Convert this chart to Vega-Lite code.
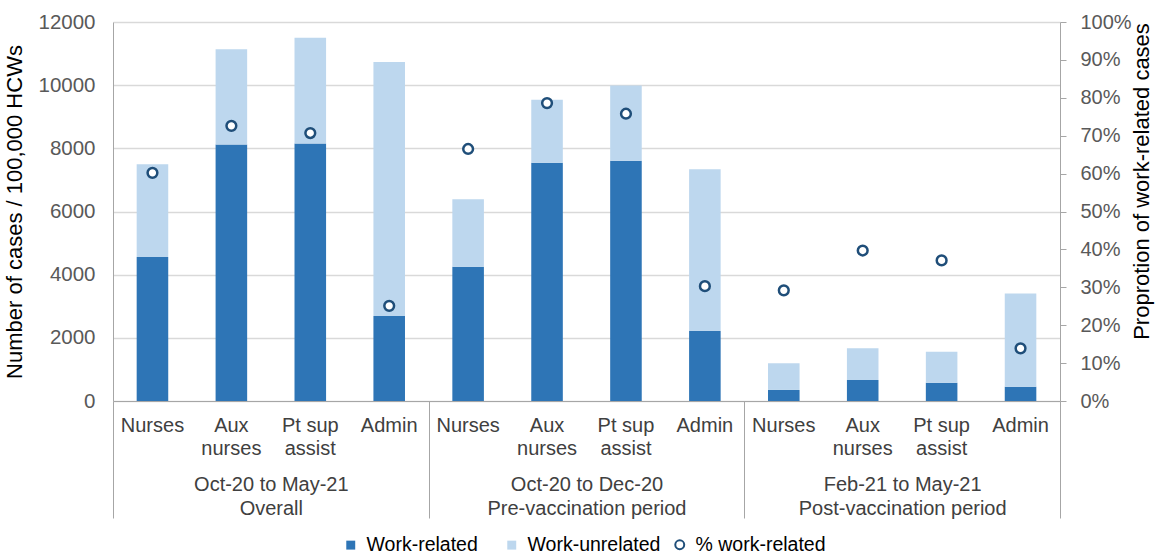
{
  "$schema": "https://vega.github.io/schema/vega-lite/v6.json",
  "width": 947,
  "height": 379,
  "autosize": {"type": "none"},
  "padding": {"left": 113, "top": 22, "right": 99, "bottom": 157},
  "background": "white",
  "config": {
    "view": {"stroke": null},
    "font": "Liberation Sans",
    "axis": {"labelFont": "Liberation Sans", "titleFont": "Liberation Sans"},
    "legend": {"labelFont": "Liberation Sans"}
  },
  "datasets": {
    "bars": [
      {"grp": "Oct-20 to May-21|Overall", "occ": "Nurses", "series": "Work-related", "value": 4560},
      {"grp": "Oct-20 to May-21|Overall", "occ": "Nurses", "series": "Work-unrelated", "value": 2940},
      {"grp": "Oct-20 to May-21|Overall", "occ": "Aux|nurses", "series": "Work-related", "value": 8120},
      {"grp": "Oct-20 to May-21|Overall", "occ": "Aux|nurses", "series": "Work-unrelated", "value": 3020},
      {"grp": "Oct-20 to May-21|Overall", "occ": "Pt sup|assist", "series": "Work-related", "value": 8150},
      {"grp": "Oct-20 to May-21|Overall", "occ": "Pt sup|assist", "series": "Work-unrelated", "value": 3350},
      {"grp": "Oct-20 to May-21|Overall", "occ": "Admin", "series": "Work-related", "value": 2690},
      {"grp": "Oct-20 to May-21|Overall", "occ": "Admin", "series": "Work-unrelated", "value": 8040},
      {"grp": "Oct-20 to Dec-20|Pre-vaccination period", "occ": "Nurses", "series": "Work-related", "value": 4250},
      {"grp": "Oct-20 to Dec-20|Pre-vaccination period", "occ": "Nurses", "series": "Work-unrelated", "value": 2140},
      {"grp": "Oct-20 to Dec-20|Pre-vaccination period", "occ": "Aux|nurses", "series": "Work-related", "value": 7540},
      {"grp": "Oct-20 to Dec-20|Pre-vaccination period", "occ": "Aux|nurses", "series": "Work-unrelated", "value": 2000},
      {"grp": "Oct-20 to Dec-20|Pre-vaccination period", "occ": "Pt sup|assist", "series": "Work-related", "value": 7610},
      {"grp": "Oct-20 to Dec-20|Pre-vaccination period", "occ": "Pt sup|assist", "series": "Work-unrelated", "value": 2380},
      {"grp": "Oct-20 to Dec-20|Pre-vaccination period", "occ": "Admin", "series": "Work-related", "value": 2220},
      {"grp": "Oct-20 to Dec-20|Pre-vaccination period", "occ": "Admin", "series": "Work-unrelated", "value": 5120},
      {"grp": "Feb-21 to May-21|Post-vaccination period", "occ": "Nurses", "series": "Work-related", "value": 350},
      {"grp": "Feb-21 to May-21|Post-vaccination period", "occ": "Nurses", "series": "Work-unrelated", "value": 845},
      {"grp": "Feb-21 to May-21|Post-vaccination period", "occ": "Aux|nurses", "series": "Work-related", "value": 665},
      {"grp": "Feb-21 to May-21|Post-vaccination period", "occ": "Aux|nurses", "series": "Work-unrelated", "value": 1005},
      {"grp": "Feb-21 to May-21|Post-vaccination period", "occ": "Pt sup|assist", "series": "Work-related", "value": 580},
      {"grp": "Feb-21 to May-21|Post-vaccination period", "occ": "Pt sup|assist", "series": "Work-unrelated", "value": 980},
      {"grp": "Feb-21 to May-21|Post-vaccination period", "occ": "Admin", "series": "Work-related", "value": 455},
      {"grp": "Feb-21 to May-21|Post-vaccination period", "occ": "Admin", "series": "Work-unrelated", "value": 2945}
    ],
    "pct": [
      {"grp": "Oct-20 to May-21|Overall", "occ": "Nurses", "pct": 0.602},
      {"grp": "Oct-20 to May-21|Overall", "occ": "Aux|nurses", "pct": 0.726},
      {"grp": "Oct-20 to May-21|Overall", "occ": "Pt sup|assist", "pct": 0.707},
      {"grp": "Oct-20 to May-21|Overall", "occ": "Admin", "pct": 0.251},
      {"grp": "Oct-20 to Dec-20|Pre-vaccination period", "occ": "Nurses", "pct": 0.665},
      {"grp": "Oct-20 to Dec-20|Pre-vaccination period", "occ": "Aux|nurses", "pct": 0.786},
      {"grp": "Oct-20 to Dec-20|Pre-vaccination period", "occ": "Pt sup|assist", "pct": 0.758},
      {"grp": "Oct-20 to Dec-20|Pre-vaccination period", "occ": "Admin", "pct": 0.303},
      {"grp": "Feb-21 to May-21|Post-vaccination period", "occ": "Nurses", "pct": 0.292},
      {"grp": "Feb-21 to May-21|Post-vaccination period", "occ": "Aux|nurses", "pct": 0.397},
      {"grp": "Feb-21 to May-21|Post-vaccination period", "occ": "Pt sup|assist", "pct": 0.371},
      {"grp": "Feb-21 to May-21|Post-vaccination period", "occ": "Admin", "pct": 0.139}
    ]
  },
  "encoding": {
    "x": {
      "field": "grp",
      "type": "nominal",
      "sort": null,
      "scale": {
        "domain": ["Oct-20 to May-21|Overall", "Oct-20 to Dec-20|Pre-vaccination period", "Feb-21 to May-21|Post-vaccination period"],
        "paddingInner": 0,
        "paddingOuter": 0
      },
      "axis": {
        "title": null,
        "orient": "bottom",
        "labelAngle": 0,
        "labelExpr": "split(datum.label, '|')",
        "labelFontSize": 20,
        "labelColor": "#404040",
        "labelBaseline": "top",
        "labelLineHeight": 24,
        "labelPadding": -44,
        "labelLimit": 0,
        "domainColor": "#A6A6A6",
        "tickColor": "#A6A6A6",
        "tickBand": "extent",
        "tickSize": 117,
        "grid": false
      }
    },
    "xOffset": {
      "field": "occ",
      "type": "nominal",
      "sort": null,
      "scale": {
        "domain": ["Nurses", "Aux|nurses", "Pt sup|assist", "Admin"],
        "paddingInner": 0.6,
        "paddingOuter": 0.3
      }
    }
  },
  "layer": [
    {
      "layer": [
        {
          "data": {"name": "bars"},
          "mark": {"type": "bar"},
          "encoding": {
            "y": {
              "field": "value",
              "type": "quantitative",
              "stack": "zero",
              "scale": {"domain": [0, 12000]},
              "axis": {
                "orient": "left",
                "title": "Number of cases / 100,000 HCWs",
                "titleFontSize": 22,
                "titleFontWeight": "normal",
                "titleColor": "#000000",
                "titlePadding": 11,
                "values": [0, 2000, 4000, 6000, 8000, 10000, 12000],
                "format": "d",
                "labelFontSize": 20.5,
                "labelColor": "#595959",
                "labelPadding": 18,
                "ticks": false,
                "domainColor": "#A6A6A6",
                "grid": true,
                "gridColor": "#D9D9D9",
                "gridWidth": 1.5
              }
            },
            "color": {
              "field": "series",
              "type": "nominal",
              "scale": {
                "domain": ["Work-related", "Work-unrelated"],
                "range": ["#2E75B6", "#BDD7EE"]
              },
              "legend": {
                "title": null,
                "orient": "none",
                "legendX": 228,
                "legendY": 513,
                "direction": "horizontal",
                "labelFontSize": 19.5,
                "labelColor": "#000000",
                "symbolType": "square",
                "symbolSize": 80,
                "columnPadding": 24,
                "labelOffset": 6
              }
            },
            "order": {"field": "series", "sort": "ascending"}
          }
        },
        {
          "data": {"name": "pct"},
          "mark": {
            "type": "text",
            "baseline": "top",
            "align": "center",
            "dy": 15,
            "fontSize": 20,
            "color": "#404040",
            "lineBreak": "|",
            "lineHeight": 23
          },
          "encoding": {
            "y": {"datum": 0},
            "text": {"field": "occ"}
          }
        }
      ]
    },
    {
      "data": {"name": "pct"},
      "mark": {
        "type": "point",
        "shape": "circle",
        "filled": false,
        "fill": "#FFFFFF",
        "strokeWidth": 2.5,
        "size": 95,
        "opacity": 1
      },
      "encoding": {
        "y": {
          "field": "pct",
          "type": "quantitative",
          "scale": {"domain": [0, 1]},
          "axis": {
            "orient": "right",
            "title": "Proprotion of work-related cases",
            "titleFontSize": 22,
            "titleFontWeight": "normal",
            "titleColor": "#000000",
            "titleAngle": 270,
            "titleY": 159,
            "titlePadding": 22,
            "values": [0, 0.1, 0.2, 0.3, 0.4, 0.5, 0.6, 0.7, 0.8, 0.9, 1],
            "format": ".0%",
            "labelFontSize": 20,
            "labelColor": "#595959",
            "labelPadding": 14,
            "tickSize": 6,
            "tickColor": "#A6A6A6",
            "domainColor": "#A6A6A6",
            "grid": false
          }
        },
        "stroke": {
          "datum": "% work-related",
          "scale": {"domain": ["% work-related"], "range": ["#1F4E79"]},
          "legend": {
            "title": null,
            "orient": "none",
            "legendX": 557,
            "legendY": 513,
            "direction": "horizontal",
            "labelFontSize": 19.5,
            "labelColor": "#000000",
            "symbolType": "circle",
            "symbolSize": 80,
            "symbolFillColor": "#FFFFFF",
            "symbolStrokeWidth": 2,
            "labelOffset": 6
          }
        }
      }
    }
  ],
  "resolve": {"scale": {"y": "independent"}}
}
